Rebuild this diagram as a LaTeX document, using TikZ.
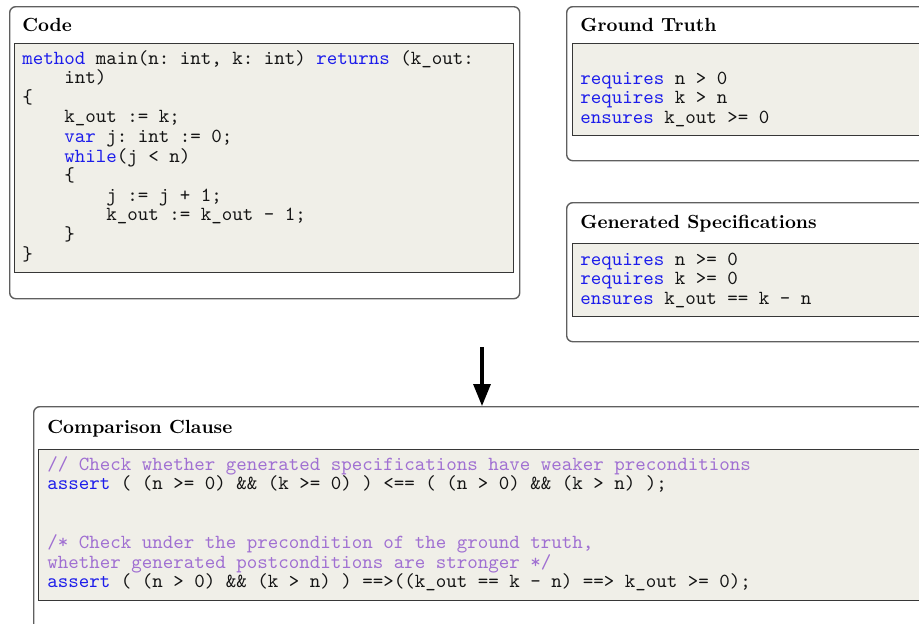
\documentclass[tikz,border=0pt]{standalone}
\usepackage{tikz}
\usetikzlibrary{positioning,arrows.meta}
\usepackage{xcolor}
\definecolor{specBorder}{RGB}{95,95,95}
\definecolor{specFrame}{RGB}{55,55,55}
\definecolor{specFill}{RGB}{240,239,232}
\definecolor{specKey}{RGB}{28,28,235}
\definecolor{specCmt}{RGB}{160,112,210}
\definecolor{specFg}{RGB}{20,20,20}
\newcommand{\kw}[1]{\textcolor{specKey}{#1}}
\frenchspacing

\begin{document}
\begin{tikzpicture}[x=0.5pt,y=-0.5pt,
      panel/.style={rounded corners=3pt, draw=specBorder, line width=0.7pt, fill=white,
                    anchor=north west, inner sep=0pt},
      inner/.style={draw=specFrame, line width=0.6pt, fill=specFill,
                    anchor=north west, inner sep=0pt},
      ttl/.style={anchor=base west, inner sep=0pt, font=\fontsize{9.5}{11}\selectfont\bfseries},
      code/.style={anchor=base west, inner sep=0pt, font=\fontsize{10}{12}\selectfont\ttfamily\color{specFg}},
      cmt/.style={code, text=specCmt},
      arr/.style={-{Triangle[length=11pt,width=8.5pt]}, line width=1.6pt, black}
    ]
    \useasboundingbox (0,0) rectangle (919,623);
    \clip (0,0) rectangle (919,623);

    % code panel
    \node[panel, minimum width=255pt, minimum height=146pt] (codebox) at (9,6) {};
    \node[inner, minimum width=249.5pt, minimum height=114.5pt] (codein) at (14,43) {};
    \node[ttl] (codettl) at (22,31) {Code};
    \node[code] (c1) at (22,64) {\kw{method} main(n: int, k: int) \kw{returns} (k\_out:};
    \node[code] (c2) at (64,83.6) {int)};
    \node[code] (c3) at (22,103.2) {\{};
    \node[code] (c4) at (64,122.8) {k\_out := k;};
    \node[code] (c5) at (64,142.4) {\kw{var} j: int := 0;};
    \node[code] (c6) at (64,162) {\kw{while}(j < n)};
    \node[code] (c7) at (64,181.6) {\{};
    \node[code] (c8) at (106,201.2) {j := j + 1;};
    \node[code] (c9) at (106,220.8) {k\_out := k\_out - 1;};
    \node[code] (c10) at (64,240.4) {\}};
    \node[code] (c11) at (22,260) {\}};

    % ground truth panel
    \node[panel, minimum width=187pt, minimum height=77pt] (gtbox) at (566,6) {};
    \node[inner, minimum width=184pt, minimum height=46pt] (gtin) at (572,43) {};
    \node[ttl] (gtttl) at (580,31) {Ground Truth};
    \node[code] (gt1) at (580,84) {\kw{requires} n > 0};
    \node[code] (gt2) at (580,103.6) {\kw{requires} k > n};
    \node[code] (gt3) at (580,123.2) {\kw{ensures} k\_out >= 0};

    % generated specifications panel
    \node[panel, minimum width=187pt, minimum height=69.5pt] (gsbox) at (566,202) {};
    \node[inner, minimum width=184pt, minimum height=36.5pt] (gsin) at (572,243) {};
    \node[ttl] (gsttl) at (580,228) {Generated Specifications};
    \node[code] (gs1) at (580,265) {\kw{requires} n >= 0};
    \node[code] (gs2) at (580,284.6) {\kw{requires} k >= 0};
    \node[code] (gs3) at (580,304.2) {\kw{ensures} k\_out == k - n};

    % comparison clause panel
    \node[panel, minimum width=453.5pt, minimum height=117pt] (cmpbox) at (33,406) {};
    \node[inner, minimum width=451pt, minimum height=75.5pt] (cmpin) at (38,449) {};
    \node[ttl] (cmpttl) at (47,433) {Comparison Clause};
    \node[cmt] (k1) at (47,470) {// Check whether generated specifications have weaker preconditions};
    \node[code] (k2) at (47,489.6) {\kw{assert} ( (n >= 0) \&\& (k >= 0) ) <== ( (n > 0) \&\& (k > n) );};
    \node[cmt] (k3) at (47,548.4) {/* Check under the precondition of the ground truth,};
    \node[cmt] (k4) at (47,568) {whether generated postconditions are stronger */};
    \node[code] (k5) at (47,587.6) {\kw{assert} ( (n > 0) \&\& (k > n) ) ==>((k\_out == k - n) ==> k\_out >= 0);};

    \coordinate (arrtop) at (482,347);
    \draw[arr] (arrtop) -- (arrtop |- cmpbox.north);
  \end{tikzpicture}
\end{document}
